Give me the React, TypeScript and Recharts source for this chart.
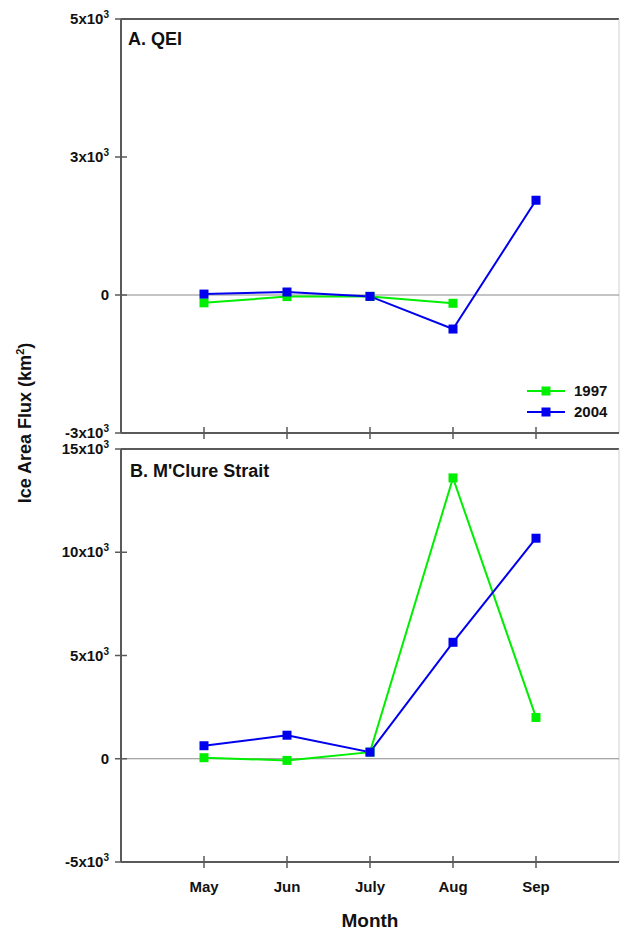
import React from 'react';
import {
  LineChart, Line, XAxis, YAxis, ReferenceLine, Legend,
} from 'recharts';

const MONTHS = [5, 6, 7, 8, 9];
const MONTH_LABELS = ['May', 'Jun', 'July', 'Aug', 'Sep'];

// A. QEI (km^2)
const QEI_1997 = [-170, -35, -30, -180, null];
const QEI_2004 = [20, 65, -30, -740, 2060];

// B. M'Clure Strait (km^2)
const MC_1997 = [50, -80, 320, 13600, 2000];
const MC_2004 = [630, 1140, 320, 5640, 10680];

const QEI_TICKS = [-3000, 0, 3000, 6000];
const QEI_TICK_LABELS = ['-3', '0', '3', '5'];
const MC_TICKS = [-5000, 0, 5000, 10000, 15000];
const MC_TICK_LABELS = ['-5', '0', '5', '10', '15'];

const GREEN = '#00ee00';
const BLUE = '#0000ee';
const AXIS = '#5a5a5a';
const FONT = '"Liberation Sans", Arial, sans-serif';

const qeiData = MONTHS.map((m, i) => ({ month: m, y1997: QEI_1997[i], y2004: QEI_2004[i] }));
const mcData = MONTHS.map((m, i) => ({ month: m, y1997: MC_1997[i], y2004: MC_2004[i] }));

function YTick(props: any) {
  const { x, y, payload, ticks, labels } = props;
  const m = labels[ticks.indexOf(payload.value)];
  return (
    <g>
      <line x1={x - 6} x2={x + 6} y1={y} y2={y} stroke={AXIS} strokeWidth={1.5} />
      <text x={x - 12} y={y} dy={5} textAnchor="end" fontFamily={FONT} fontWeight="bold" fontSize={15} fill="#111">
        {m === '0' ? '0' : `${m}x10`}
        {m === '0' ? null : <tspan dy={-6} fontSize={10}>3</tspan>}
      </text>
    </g>
  );
}

function XTick(props: any) {
  const { x, y, payload, showLabel } = props;
  const label = MONTH_LABELS[MONTHS.indexOf(payload.value)];
  return (
    <g>
      <line x1={x} x2={x} y1={y - 6} y2={y + 6} stroke={AXIS} strokeWidth={1.5} />
      {showLabel && (
        <text x={x} y={y + 30} textAnchor="middle" fontFamily={FONT} fontWeight="bold" fontSize={15} fill="#111">
          {label}
        </text>
      )}
    </g>
  );
}

const squareDot = (color: string) => (props: any) => {
  const { cx, cy, index } = props;
  if (cx == null || cy == null) return <g key={`e-${index}`} />;
  return <rect key={`d-${index}`} x={cx - 4.5} y={cy - 4.5} width={9} height={9} fill={color} />;
};

function LegendBox({ payload }: any) {
  return (
    <div>
      {(payload || []).map((p: any) => (
        <div key={p.value} style={{ display: 'flex', alignItems: 'center', height: 21 }}>
          <svg width={38} height={10}>
            <line x1={0} x2={38} y1={5} y2={5} stroke={p.color} strokeWidth={2} />
            <rect x={14.5} y={0.5} width={9} height={9} fill={p.color} />
          </svg>
          <span style={{ marginLeft: 9, fontFamily: FONT, fontWeight: 'bold', fontSize: 15, color: '#111' }}>
            {p.value}
          </span>
        </div>
      ))}
    </div>
  );
}

const titleStyle: React.CSSProperties = {
  position: 'absolute',
  fontFamily: FONT,
  fontWeight: 'bold',
  fontSize: 18,
  lineHeight: '18px',
  color: '#111',
  whiteSpace: 'nowrap',
};

export default function App() {
  return (
    <div style={{ position: 'absolute', left: 0, top: 0, width: 620, height: 930, background: '#fff' }}>
      <div style={{ position: 'absolute', left: 0, top: 0 }}>
        <LineChart width={620} height={441} data={qeiData} margin={{ top: 19, right: 1, bottom: 0, left: 0 }}>
          <ReferenceLine y={6000} stroke={AXIS} strokeWidth={2} />
          <ReferenceLine x={10} stroke="#cfcfcf" strokeWidth={1} />
          <ReferenceLine y={0} stroke="#8a8a8a" strokeWidth={1} />
          <XAxis
            dataKey="month" type="number" domain={[4, 10]} ticks={MONTHS} interval={0}
            height={8} tickSize={0} tickMargin={0} tickLine={false}
            axisLine={{ stroke: AXIS, strokeWidth: 2 }}
            tick={(p: any) => <XTick {...p} showLabel={false} />}
          />
          <YAxis
            type="number" domain={[-3000, 6000]} ticks={QEI_TICKS} interval={0} allowDataOverflow
            width={121} tickSize={0} tickMargin={0} tickLine={false}
            axisLine={{ stroke: AXIS, strokeWidth: 2 }}
            tick={(p: any) => <YTick {...p} ticks={QEI_TICKS} labels={QEI_TICK_LABELS} />}
          />
          <Legend
            layout="vertical" align="center" verticalAlign="middle"
            wrapperStyle={{ left: 527, top: 380, width: 93 }}
            content={(p: any) => <LegendBox payload={p.payload} />}
          />
          <Line dataKey="y1997" name="1997" stroke={GREEN} strokeWidth={2} dot={squareDot(GREEN)} isAnimationActive={false} />
          <Line dataKey="y2004" name="2004" stroke={BLUE} strokeWidth={2} dot={squareDot(BLUE)} isAnimationActive={false} />
        </LineChart>
      </div>

      <div style={{ position: 'absolute', left: 0, top: 420 }}>
        <LineChart width={620} height={510} data={mcData} margin={{ top: 29, right: 1, bottom: 0, left: 0 }}>
          <ReferenceLine y={15000} stroke={AXIS} strokeWidth={2} />
          <ReferenceLine x={10} stroke="#cfcfcf" strokeWidth={1} />
          <ReferenceLine y={0} stroke="#8a8a8a" strokeWidth={1} />
          <XAxis
            dataKey="month" type="number" domain={[4, 10]} ticks={MONTHS} interval={0}
            height={68} tickSize={0} tickMargin={0} tickLine={false}
            axisLine={{ stroke: AXIS, strokeWidth: 2 }}
            tick={(p: any) => <XTick {...p} showLabel />}
            label={{ value: 'Month', position: 'insideBottom', offset: 3, fontFamily: FONT, fontWeight: 'bold', fontSize: 19, fill: '#111' }}
          />
          <YAxis
            type="number" domain={[-5000, 15000]} ticks={MC_TICKS} interval={0} allowDataOverflow
            width={121} tickSize={0} tickMargin={0} tickLine={false}
            axisLine={{ stroke: AXIS, strokeWidth: 2 }}
            tick={(p: any) => <YTick {...p} ticks={MC_TICKS} labels={MC_TICK_LABELS} />}
          />
          <Line dataKey="y1997" name="1997" stroke={GREEN} strokeWidth={2} dot={squareDot(GREEN)} isAnimationActive={false} />
          <Line dataKey="y2004" name="2004" stroke={BLUE} strokeWidth={2} dot={squareDot(BLUE)} isAnimationActive={false} />
        </LineChart>
      </div>

      <div style={{ ...titleStyle, left: 128, top: 30 }}>A. QEI</div>
      <div style={{ ...titleStyle, left: 130, top: 462 }}>B. M'Clure Strait</div>
      <div
        style={{
          ...titleStyle,
          left: 22,
          top: 423,
          transform: 'translate(-50%, -50%) rotate(-90deg)',
        }}
      >
        Ice Area Flux (km<sup style={{ fontSize: 11 }}>2</sup>)
      </div>
    </div>
  );
}
